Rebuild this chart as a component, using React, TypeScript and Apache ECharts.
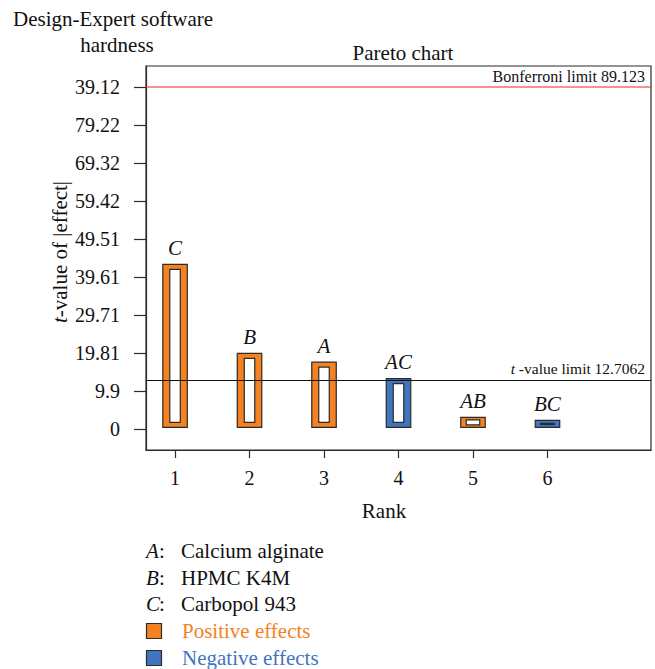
import React, { useEffect, useRef } from "react";
import * as echarts from "echarts";

const ranks = [1, 2, 3, 4, 5, 6];
const effectTerms = ["C", "B", "A", "AC", "AB", "BC"];
const tValues = [42.9, 19.7, 17.4, 13.1, 3.0, 2.2];
const effectSigns = ["pos", "pos", "pos", "neg", "pos", "neg"];
const yTickValues = [0, 9.9, 19.81, 29.71, 39.61, 49.51, 59.42, 69.32, 79.22, 89.12];
const yTickLabels = ["0", "9.9", "19.81", "29.71", "39.61", "49.51", "59.42", "69.32", "79.22", "39.12"];
const xTickValues = [1, 2, 3, 4, 5, 6];
const tLimit = 12.7062;
const bonferroniLimit = 89.123;
const factorKeys = ["A", "B", "C"];
const factorNames = ["Calcium alginate", "HPMC K4M", "Carbopol 943"];
const legendNames = ["Positive effects", "Negative effects"];

const X_MIN = 0.61;
const X_MAX = 7.39;
const ORANGE = "#F58220";
const BLUE = "#3F76BF";
const RED = "#E8262F";
const FONT = "'Liberation Serif', 'DejaVu Serif', serif";
const DARK = "#2b2b2b";

export default function App() {
  const ref = useRef<HTMLDivElement>(null);
  useEffect(() => {
    if (!ref.current) return;
    const chart = echarts.init(ref.current, undefined, { renderer: "svg" });
    const data = ranks.map((r, i) => [r, tValues[i], i]);
    const legendGraphics: any[] = [];
    factorKeys.forEach((k, i) => {
      const y = 551 + i * 26.5;
      legendGraphics.push({
        type: "text",
        x: 146,
        y,
        style: { text: k, font: `italic 21px ${FONT}`, fill: "#111", verticalAlign: "middle" },
      });
      legendGraphics.push({
        type: "text",
        x: 159,
        y,
        style: { text: ":", font: `21px ${FONT}`, fill: "#111", verticalAlign: "middle" },
      });
      legendGraphics.push({
        type: "text",
        x: 181,
        y,
        style: { text: factorNames[i], font: `21px ${FONT}`, fill: "#111", verticalAlign: "middle" },
      });
    });
    [ORANGE, BLUE].forEach((c, i) => {
      const y = 631 + i * 27;
      legendGraphics.push({
        type: "rect",
        shape: { x: 146.5, y: y - 7.5, width: 15, height: 15 },
        style: { fill: c, stroke: DARK, lineWidth: 1.2 },
      });
      legendGraphics.push({
        type: "text",
        x: 182,
        y,
        style: { text: legendNames[i], font: `21px ${FONT}`, fill: c, verticalAlign: "middle" },
      });
    });

    chart.setOption({
      animation: false,
      backgroundColor: "#fff",
      textStyle: { fontFamily: FONT },
      grid: {
        left: 146,
        right: 4,
        top: 66,
        bottom: 219,
        show: true,
        borderColor: DARK,
        borderWidth: 1.2,
      },
      xAxis: {
        type: "value",
        min: X_MIN,
        max: X_MAX,
        splitLine: { show: false },
        axisLine: { show: true, onZero: false, lineStyle: { color: DARK, width: 1.2 } },
        axisTick: { show: true, length: 8, customValues: xTickValues, lineStyle: { color: DARK, width: 1.2 } },
        axisLabel: {
          customValues: xTickValues,
          margin: 18,
          color: "#111",
          fontSize: 20,
          fontFamily: FONT,
        },
      },
      yAxis: {
        type: "value",
        min: -5.5,
        max: 94.6,
        splitLine: { show: false },
        axisLine: { show: true, onZero: false, lineStyle: { color: DARK, width: 1.2 } },
        axisTick: { show: true, length: 12, customValues: yTickValues, lineStyle: { color: DARK, width: 1.2 } },
        axisLabel: {
          customValues: yTickValues,
          margin: 26,
          color: "#111",
          fontSize: 20,
          fontFamily: FONT,
          formatter: (v: number) => {
            let best = 0;
            yTickValues.forEach((t, i) => {
              if (Math.abs(t - v) < Math.abs(yTickValues[best] - v)) best = i;
            });
            return yTickLabels[best];
          },
        },
      },
      title: [
        { text: "Design-Expert software", left: 8, top: 3, textStyle: { fontFamily: FONT, fontSize: 21, fontWeight: "normal", color: "#111" } },
        { text: "hardness", left: 112, top: 29, textAlign: "center", textStyle: { fontFamily: FONT, fontSize: 21, fontWeight: "normal", color: "#111" } },
        { text: "Pareto chart", left: 398, top: 37, textAlign: "center", textStyle: { fontFamily: FONT, fontSize: 21, fontWeight: "normal", color: "#111" } },
      ],
      graphic: [
        {
          type: "text",
          x: 60,
          y: 252,
          rotation: Math.PI / 2,
          style: {
            text: "{i|t}-value of |effect|",
            rich: { i: { fontStyle: "italic", fontFamily: FONT, fontSize: 21, fill: "#111" } },
            font: `21px ${FONT}`,
            fill: "#111",
            align: "center",
            verticalAlign: "middle",
          },
        },
        {
          type: "text",
          x: 384,
          y: 511,
          style: { text: "Rank", font: `21px ${FONT}`, fill: "#111", align: "center", verticalAlign: "middle" },
        },
        ...legendGraphics,
      ],
      series: [
        {
          type: "line",
          name: "bonferroni",
          data: [
            [X_MIN, bonferroniLimit],
            [X_MAX, bonferroniLimit],
          ],
          symbol: "none",
          silent: true,
          lineStyle: { color: RED, width: 1.2, type: "solid" },
          itemStyle: { color: RED },
          endLabel: {
            show: true,
            formatter: "Bonferroni limit 89.123",
            fontFamily: FONT,
            fontSize: 16,
            color: "#111",
            align: "right",
            verticalAlign: "bottom",
            offset: [-6, -3],
            distance: 0,
          },
        },
        {
          type: "custom",
          data,
          renderItem: (params: any, api: any) => {
            const x = api.value(0);
            const v = api.value(1);
            const idx = api.value(2);
            const top = api.coord([x, v]);
            const base = api.coord([x, 0]);
            const w = 24.5;
            const left = top[0] - w / 2;
            const yTop = top[1];
            const yBot = base[1] - 1.5;
            const h = yBot - yTop;
            const color = effectSigns[idx] === "pos" ? ORANGE : BLUE;
            const insetX = h < 15 ? 5.5 : 7;
            const insetY = h < 10 ? h * 0.42 : Math.min(5, h * 0.25);
            return {
              type: "group",
              children: [
                {
                  type: "rect",
                  shape: { x: left, y: yTop, width: w, height: h },
                  style: { fill: color, stroke: DARK, lineWidth: 1.2 },
                },
                {
                  type: "rect",
                  shape: { x: left + insetX, y: yTop + insetY, width: w - 2 * insetX, height: Math.max(h - 2 * insetY, 0.5) },
                  style: { fill: "#fff", stroke: DARK, lineWidth: 1.2 },
                },
                {
                  type: "text",
                  x: top[0],
                  y: yTop - 6,
                  style: {
                    text: effectTerms[idx],
                    font: `italic 21px ${FONT}`,
                    fill: "#111",
                    align: "center",
                    verticalAlign: "bottom",
                  },
                },
              ],
            };
          },
          markLine: {
            silent: true,
            symbol: "none",
            lineStyle: { color: "#111", width: 1.2, type: "solid" },
            data: [
              {
                yAxis: tLimit,
                label: {
                  show: true,
                  position: "insideEndTop",
                  distance: [6, 4],
                  formatter: "{i|t} -value limit 12.7062",
                  fontFamily: FONT,
                  fontSize: 15.5,
                  color: "#111",
                  rich: { i: { fontStyle: "italic", fontFamily: FONT, fontSize: 15.5, color: "#111" } },
                },
              },
            ],
          },
        },
      ],
    });
    return () => chart.dispose();
  }, []);
  return <div ref={ref} style={{ width: 655, height: 669, position: "absolute", left: 0, top: 0 }} />;
}
